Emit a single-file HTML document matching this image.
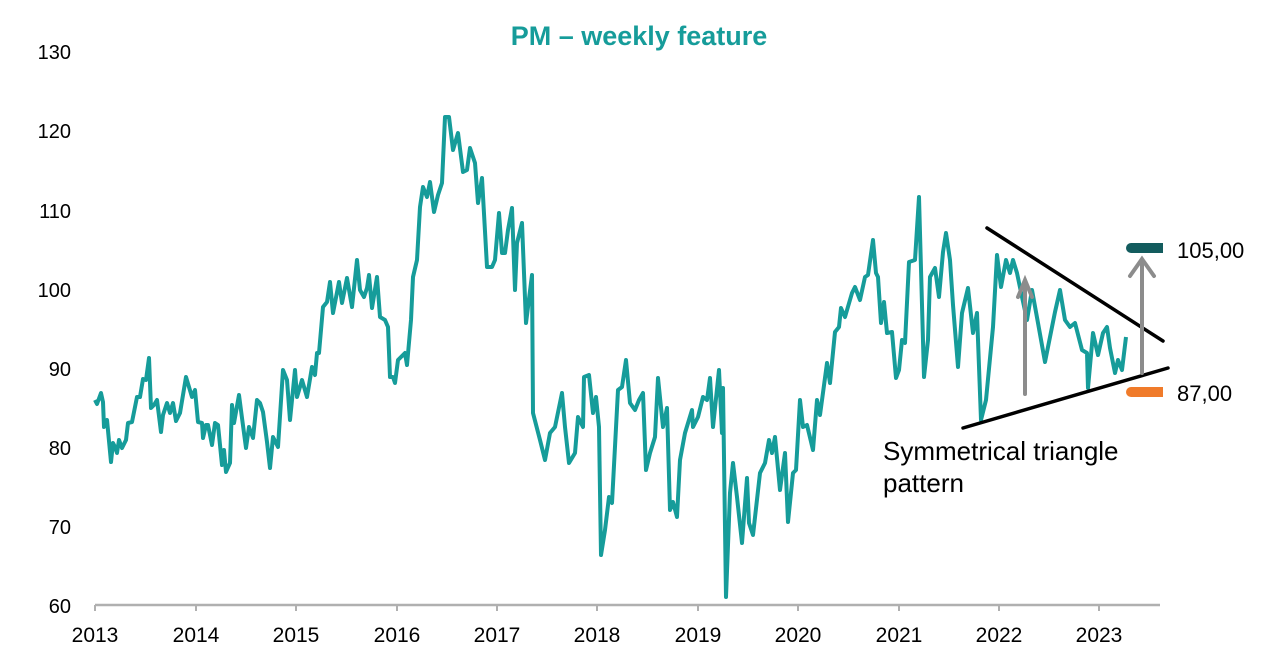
<!DOCTYPE html>
<html><head><meta charset="utf-8"><style>
body{margin:0;background:#fff;}
svg{display:block;font-family:"Liberation Sans",Arial,sans-serif;}
</style></head><body>
<svg width="1280" height="663" viewBox="0 0 1280 663">
<text x="639" y="45" text-anchor="middle" font-size="27" font-weight="bold" fill="#169c9a">PM – weekly feature</text>
<g font-size="20" fill="#000" text-anchor="end">
<text x="71" y="59">130</text><text x="71" y="138">120</text><text x="71" y="218">110</text>
<text x="71" y="297">100</text><text x="71" y="376">90</text><text x="71" y="455">80</text>
<text x="71" y="534">70</text><text x="71" y="613">60</text>
</g>
<line x1="95" y1="605" x2="1160" y2="605" stroke="#b0b0b0" stroke-width="2.5"/>
<g stroke="#b0b0b0" stroke-width="2">
<line x1="95" y1="605" x2="95" y2="611"/><line x1="196" y1="605" x2="196" y2="611"/><line x1="296" y1="605" x2="296" y2="611"/><line x1="397" y1="605" x2="397" y2="611"/><line x1="497" y1="605" x2="497" y2="611"/><line x1="597" y1="605" x2="597" y2="611"/><line x1="698" y1="605" x2="698" y2="611"/><line x1="798" y1="605" x2="798" y2="611"/><line x1="899" y1="605" x2="899" y2="611"/><line x1="999" y1="605" x2="999" y2="611"/><line x1="1099" y1="605" x2="1099" y2="611"/>
</g>
<g font-size="21" fill="#000" text-anchor="middle">
<text x="95" y="642">2013</text><text x="196" y="642">2014</text><text x="296" y="642">2015</text><text x="397" y="642">2016</text><text x="497" y="642">2017</text><text x="597" y="642">2018</text><text x="698" y="642">2019</text><text x="798" y="642">2020</text><text x="899" y="642">2021</text><text x="999" y="642">2022</text><text x="1099" y="642">2023</text>
</g>
<polyline fill="none" stroke="#169c9a" stroke-width="4" stroke-linejoin="round" points="95,400 97,404 101,393 103,402 104,427 107,420 111,462 113,443 115,447 117,453 119,440 122,448 126,440 128,423 132,422 137,397 140,397 143,379 146,380 149,358 151,408 154,405 157,400 161,432 163,415 167,403 170,413 173,403 176,421 180,413 186,377 192,397 195,390 198,422 202,423 203,438 206,425 208,425 212,445 215,423 218,425 222,465 224,450 226,472 230,463 232,405 234,423 239,395 242,418 246,448 249,427 253,438 257,400 260,403 263,412 267,442 270,468 273,437 278,447 283,370 287,380 290,420 295,370 297,397 302,380 307,397 312,367 315,375 317,353 319,353 323,307 327,302 330,282 333,313 339,282 342,303 347,278 352,307 357,260 360,290 364,297 367,288 369,275 372,308 377,277 380,317 385,320 388,327 390,377 393,377 395,383 398,360 405,353 407,365 411,320 413,277 417,260 420,207 423,187 427,197 430,182 434,212 438,195 442,183 445,117 449,117 453,150 458,133 463,172 467,170 470,148 475,163 478,203 482,178 487,267 492,267 495,260 499,213 502,253 505,253 508,230 512,208 515,290 517,243 522,223 526,323 532,275 533,413 540,440 545,460 550,433 555,427 562,393 565,427 569,463 575,453 578,417 583,427 584,377 589,375 593,413 596,397 599,427 601,555 605,530 609,497 612,503 618,390 622,387 626,360 630,403 635,410 639,400 643,393 646,470 650,453 655,437 658,378 663,427 667,408 670,510 673,502 677,517 680,460 685,433 692,410 693,427 698,417 703,397 707,400 710,378 713,427 719,370 722,433 723,388 726,597 730,493 733,463 737,497 742,543 747,478 749,523 753,535 760,473 765,463 769,440 772,453 775,437 780,490 785,453 788,522 793,473 796,470 800,400 803,427 807,425 813,450 817,400 820,415 827,363 830,383 835,332 839,327 841,308 845,317 852,293 855,287 860,300 865,277 868,275 873,240 876,273 878,277 881,323 884,302 887,333 892,332 896,378 899,370 902,340 905,343 909,262 915,260 919,197 924,377 928,340 930,277 935,268 939,297 943,252 946,233 950,260 953,305 958,367 962,313 968,288 973,333 977,313 981,420 986,400 993,327 997,255 1001,287 1006,260 1010,273 1013,260 1017,273 1022,297 1027,320 1032,290 1038,323 1045,362 1050,337 1055,312 1060,290 1065,320 1070,327 1075,323 1082,350 1087,353 1088,388 1093,333 1098,355 1103,333 1107,327 1110,348 1115,373 1118,360 1122,370 1126,337"/>
<line x1="987" y1="228" x2="1163" y2="341" stroke="#000" stroke-width="3.5" stroke-linecap="round"/>
<line x1="963" y1="428" x2="1168" y2="368" stroke="#000" stroke-width="3.5" stroke-linecap="round"/>
<g stroke="#8c8c8c" stroke-width="4" fill="none" stroke-linecap="round">
<line x1="1025" y1="394" x2="1025" y2="281"/><polyline points="1018,297 1025,280 1032,297"/>
<line x1="1142" y1="373" x2="1142" y2="260"/><polyline points="1130,276 1142,259 1154,276"/>
</g>
<rect x="1126" y="243" width="37" height="10" rx="5" fill="#135c5e"/><rect x="1150" y="243" width="13" height="10" fill="#135c5e"/>
<rect x="1126" y="387" width="37" height="10" rx="5" fill="#f07b2a"/><rect x="1150" y="387" width="13" height="10" fill="#f07b2a"/>
<text x="1177" y="258" font-size="22" fill="#000">105,00</text>
<text x="1177" y="401" font-size="22" fill="#000">87,00</text>
<text x="883" y="460" font-size="26" fill="#000">Symmetrical triangle</text>
<text x="883" y="492" font-size="26" fill="#000">pattern</text>
</svg>
</body></html>
